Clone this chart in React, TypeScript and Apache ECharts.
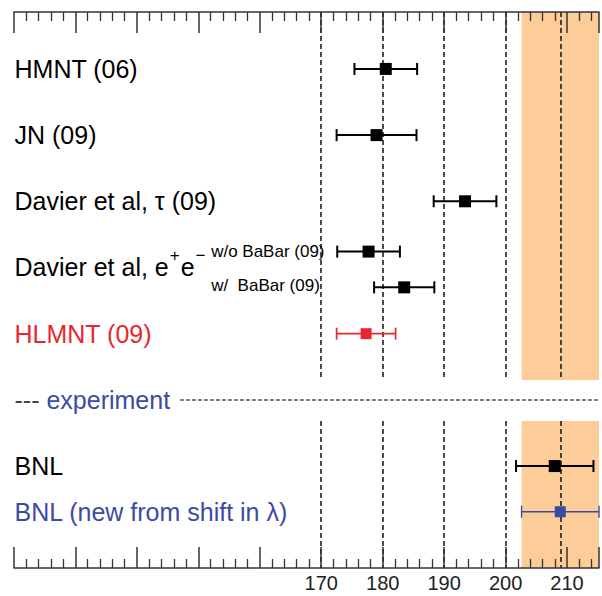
import React, { useEffect, useRef } from "react";
import * as echarts from "echarts";

// ---- data ----
const pointNames = [
  "HMNT (06)",
  "JN (09)",
  "Davier et al, τ (09)",
  "w/o BaBar (09)",
  "w/  BaBar (09)",
  "HLMNT (09)",
  "BNL",
  "BNL (new from shift in λ)",
];
const pointCentres = [180.5, 179.0, 193.4, 177.7, 183.5, 177.3, 208.0, 208.9];
const pointErrors = [5.1, 6.5, 5.1, 5.1, 4.9, 4.8, 6.3, 6.3];
const pointRows = [1, 2, 3, 3.76, 4.3, 5, 7, 7.69];

const rowLabels = [
  "HMNT (06)",
  "JN (09)",
  "Davier et al, τ (09)",
  "Davier et al, e+e−",
  "HLMNT (09)",
  "experiment",
  "BNL",
  "BNL (new from shift in λ)",
];
const rowLabelRows = [1, 2, 3, 4, 5, 6, 7, 7.69];

const subLabels = ["w/o BaBar (09)", "w/  BaBar (09)"];
const subLabelRows = [3.76, 4.27];

const referenceLines = [170, 180, 190, 200, 208.9];
const tickLabels = [170, 180, 190, 200, 210];
const bandRange = [202.6, 215.2];

// ---- layout / style ----
const X_MIN = 120;
const X_MAX = 215.2;
const Y_MIN = 0.14;
const Y_MAX = 8.54;
const GAP_TOP = 5.7;
const GAP_BOTTOM = 6.32;
const SUBLABEL_X = 152;
const SEPARATOR_START = 147;

const BLACK = "#000000";
const RED = "#e8262e";
const BLUE = "#3b4aa5";
const FONT = "'Liberation Sans', Arial, Helvetica, sans-serif";

const pointColours = [BLACK, BLACK, BLACK, BLACK, BLACK, RED, BLACK, BLUE];
const labelColours = [BLACK, BLACK, BLACK, BLACK, RED, BLUE, BLACK, BLUE];

export default function App() {
  const ref = useRef<HTMLDivElement>(null);
  useEffect(() => {
    if (!ref.current) return;
    const chart = echarts.init(ref.current, undefined, { renderer: "svg" });

    const axisCommon: any = {
      type: "value",
      min: X_MIN,
      max: X_MAX,
      interval: 10,
      z: 10,
      axisLine: { show: true, onZero: false, lineStyle: { color: "#333", width: 1.5 } },
      axisTick: { show: true, inside: true, length: 21, lineStyle: { color: "#333", width: 1.5 } },
      minorTick: { show: true, splitNumber: 5, length: 9, lineStyle: { color: "#333", width: 1.3 } },
      splitLine: { show: false },
      minorSplitLine: { show: false },
    };

    const vLines: any[] = [];
    referenceLines.forEach((v) => {
      vLines.push([{ coord: [v, Y_MIN] }, { coord: [v, GAP_TOP] }]);
      vLines.push([{ coord: [v, GAP_BOTTOM] }, { coord: [v, Y_MAX] }]);
    });

    const labelData = rowLabels.map((t, i) => {
      const colour = labelColours[i];
      let formatter: string = "{m|" + t + "}";
      let offset = [0, 0];
      if (t.indexOf("e+e−") >= 0) {
        formatter = "{p|Davier et al, e}{s|+}{p|e}{s|−}";
        offset = [0, -5];
      } else if (t === "experiment") {
        formatter = "{d|---}{m| experiment}";
      }
      return {
        value: [X_MIN, rowLabelRows[i]],
        label: {
          formatter,
          offset,
          rich: {
            m: { fontSize: 25, color: colour, fontFamily: FONT, lineHeight: 30 },
            p: { fontSize: 25, color: colour, fontFamily: FONT, lineHeight: 30, padding: [10, 0, 0, 0] },
            s: { fontSize: 17, color: colour, fontFamily: FONT, verticalAlign: "top", lineHeight: 22, padding: [0, 1, 0, 1] },
            d: { fontSize: 25, color: "#444", fontFamily: FONT, lineHeight: 30 },
          },
        },
      };
    });

    const subData = subLabels.map((t, i) => ({
      value: [SUBLABEL_X, subLabelRows[i]],
      label: { formatter: t },
    }));

    const errData = pointCentres.map((c, i) => [c, pointErrors[i], pointRows[i], i]);

    const option: any = {
      animation: false,
      grid: { left: 14, right: 0, top: 12, bottom: 28, containLabel: false },
      xAxis: [
        {
          ...axisCommon,
          position: "bottom",
          axisLabel: {
            show: true,
            margin: 5,
            fontSize: 20,
            color: "#222",
            fontFamily: "'Liberation Sans Narrow', " + FONT,
            formatter: (v: number) => (tickLabels.indexOf(v) >= 0 ? String(v) : ""),
          },
        },
        { ...axisCommon, position: "top", axisLabel: { show: false } },
      ],
      yAxis: { type: "value", inverse: true, min: Y_MIN, max: Y_MAX, show: false },
      series: [
        {
          type: "scatter",
          z: 1,
          data: [],
          markArea: {
            silent: true,
            z: 1,
            itemStyle: { color: "#fccd98" },
            data: [
              [{ coord: [bandRange[0], Y_MIN] }, { coord: [bandRange[1], GAP_TOP] }],
              [{ coord: [bandRange[0], GAP_BOTTOM] }, { coord: [bandRange[1], Y_MAX] }],
            ],
          },
        },
        {
          type: "scatter",
          z: 2,
          data: [],
          markLine: {
            silent: true,
            z: 2,
            symbol: ["none", "none"],
            label: { show: false },
            lineStyle: { color: "#1e1e1e", width: 1.6, type: [5, 3] },
            data: [
              ...vLines,
              [
                { coord: [SEPARATOR_START, 6], lineStyle: { color: "#555", width: 1.5, type: [4, 2] } },
                { coord: [X_MAX, 6] },
              ],
            ],
          },
        },
        {
          type: "custom",
          z: 4,
          clip: false,
          data: errData,
          renderItem: (params: any, api: any) => {
            const c = api.value(0);
            const e = api.value(1);
            const r = api.value(2);
            const idx = api.value(3);
            const colour = pointColours[idx];
            const lw = colour === BLACK ? 2 : colour === RED ? 1.7 : 1.4;
            const size = colour === BLACK ? 12 : 11;
            const cap = 6;
            const p1 = api.coord([c - e, r]);
            const p2 = api.coord([c + e, r]);
            const pc = api.coord([c, r]);
            const st = { stroke: colour, lineWidth: lw };
            return {
              type: "group",
              children: [
                { type: "line", shape: { x1: p1[0], y1: p1[1], x2: p2[0], y2: p2[1] }, style: st },
                { type: "line", shape: { x1: p1[0], y1: p1[1] - cap, x2: p1[0], y2: p1[1] + cap }, style: st },
                { type: "line", shape: { x1: p2[0], y1: p2[1] - cap, x2: p2[0], y2: p2[1] + cap }, style: st },
                {
                  type: "rect",
                  shape: { x: pc[0] - size / 2, y: pc[1] - size / 2, width: size, height: size },
                  style: { fill: colour },
                },
              ],
            };
          },
        },
        {
          type: "scatter",
          z: 5,
          symbolSize: 1,
          itemStyle: { color: "rgba(0,0,0,0)", opacity: 1 },
          silent: true,
          label: { show: true, position: "right", distance: 0 },
          data: labelData,
        },
        {
          type: "scatter",
          z: 5,
          symbolSize: 1,
          itemStyle: { color: "rgba(0,0,0,0)", opacity: 1 },
          silent: true,
          label: { show: true, position: "right", distance: 0, fontSize: 17, color: BLACK, fontFamily: FONT },
          data: subData,
        },
      ],
    };
    chart.setOption(option);
    return () => chart.dispose();
  }, []);

  return (
    <div
      ref={ref}
      style={{ position: "absolute", left: 0, top: 0, width: 602, height: 596, background: "#fff" }}
    />
  );
}
